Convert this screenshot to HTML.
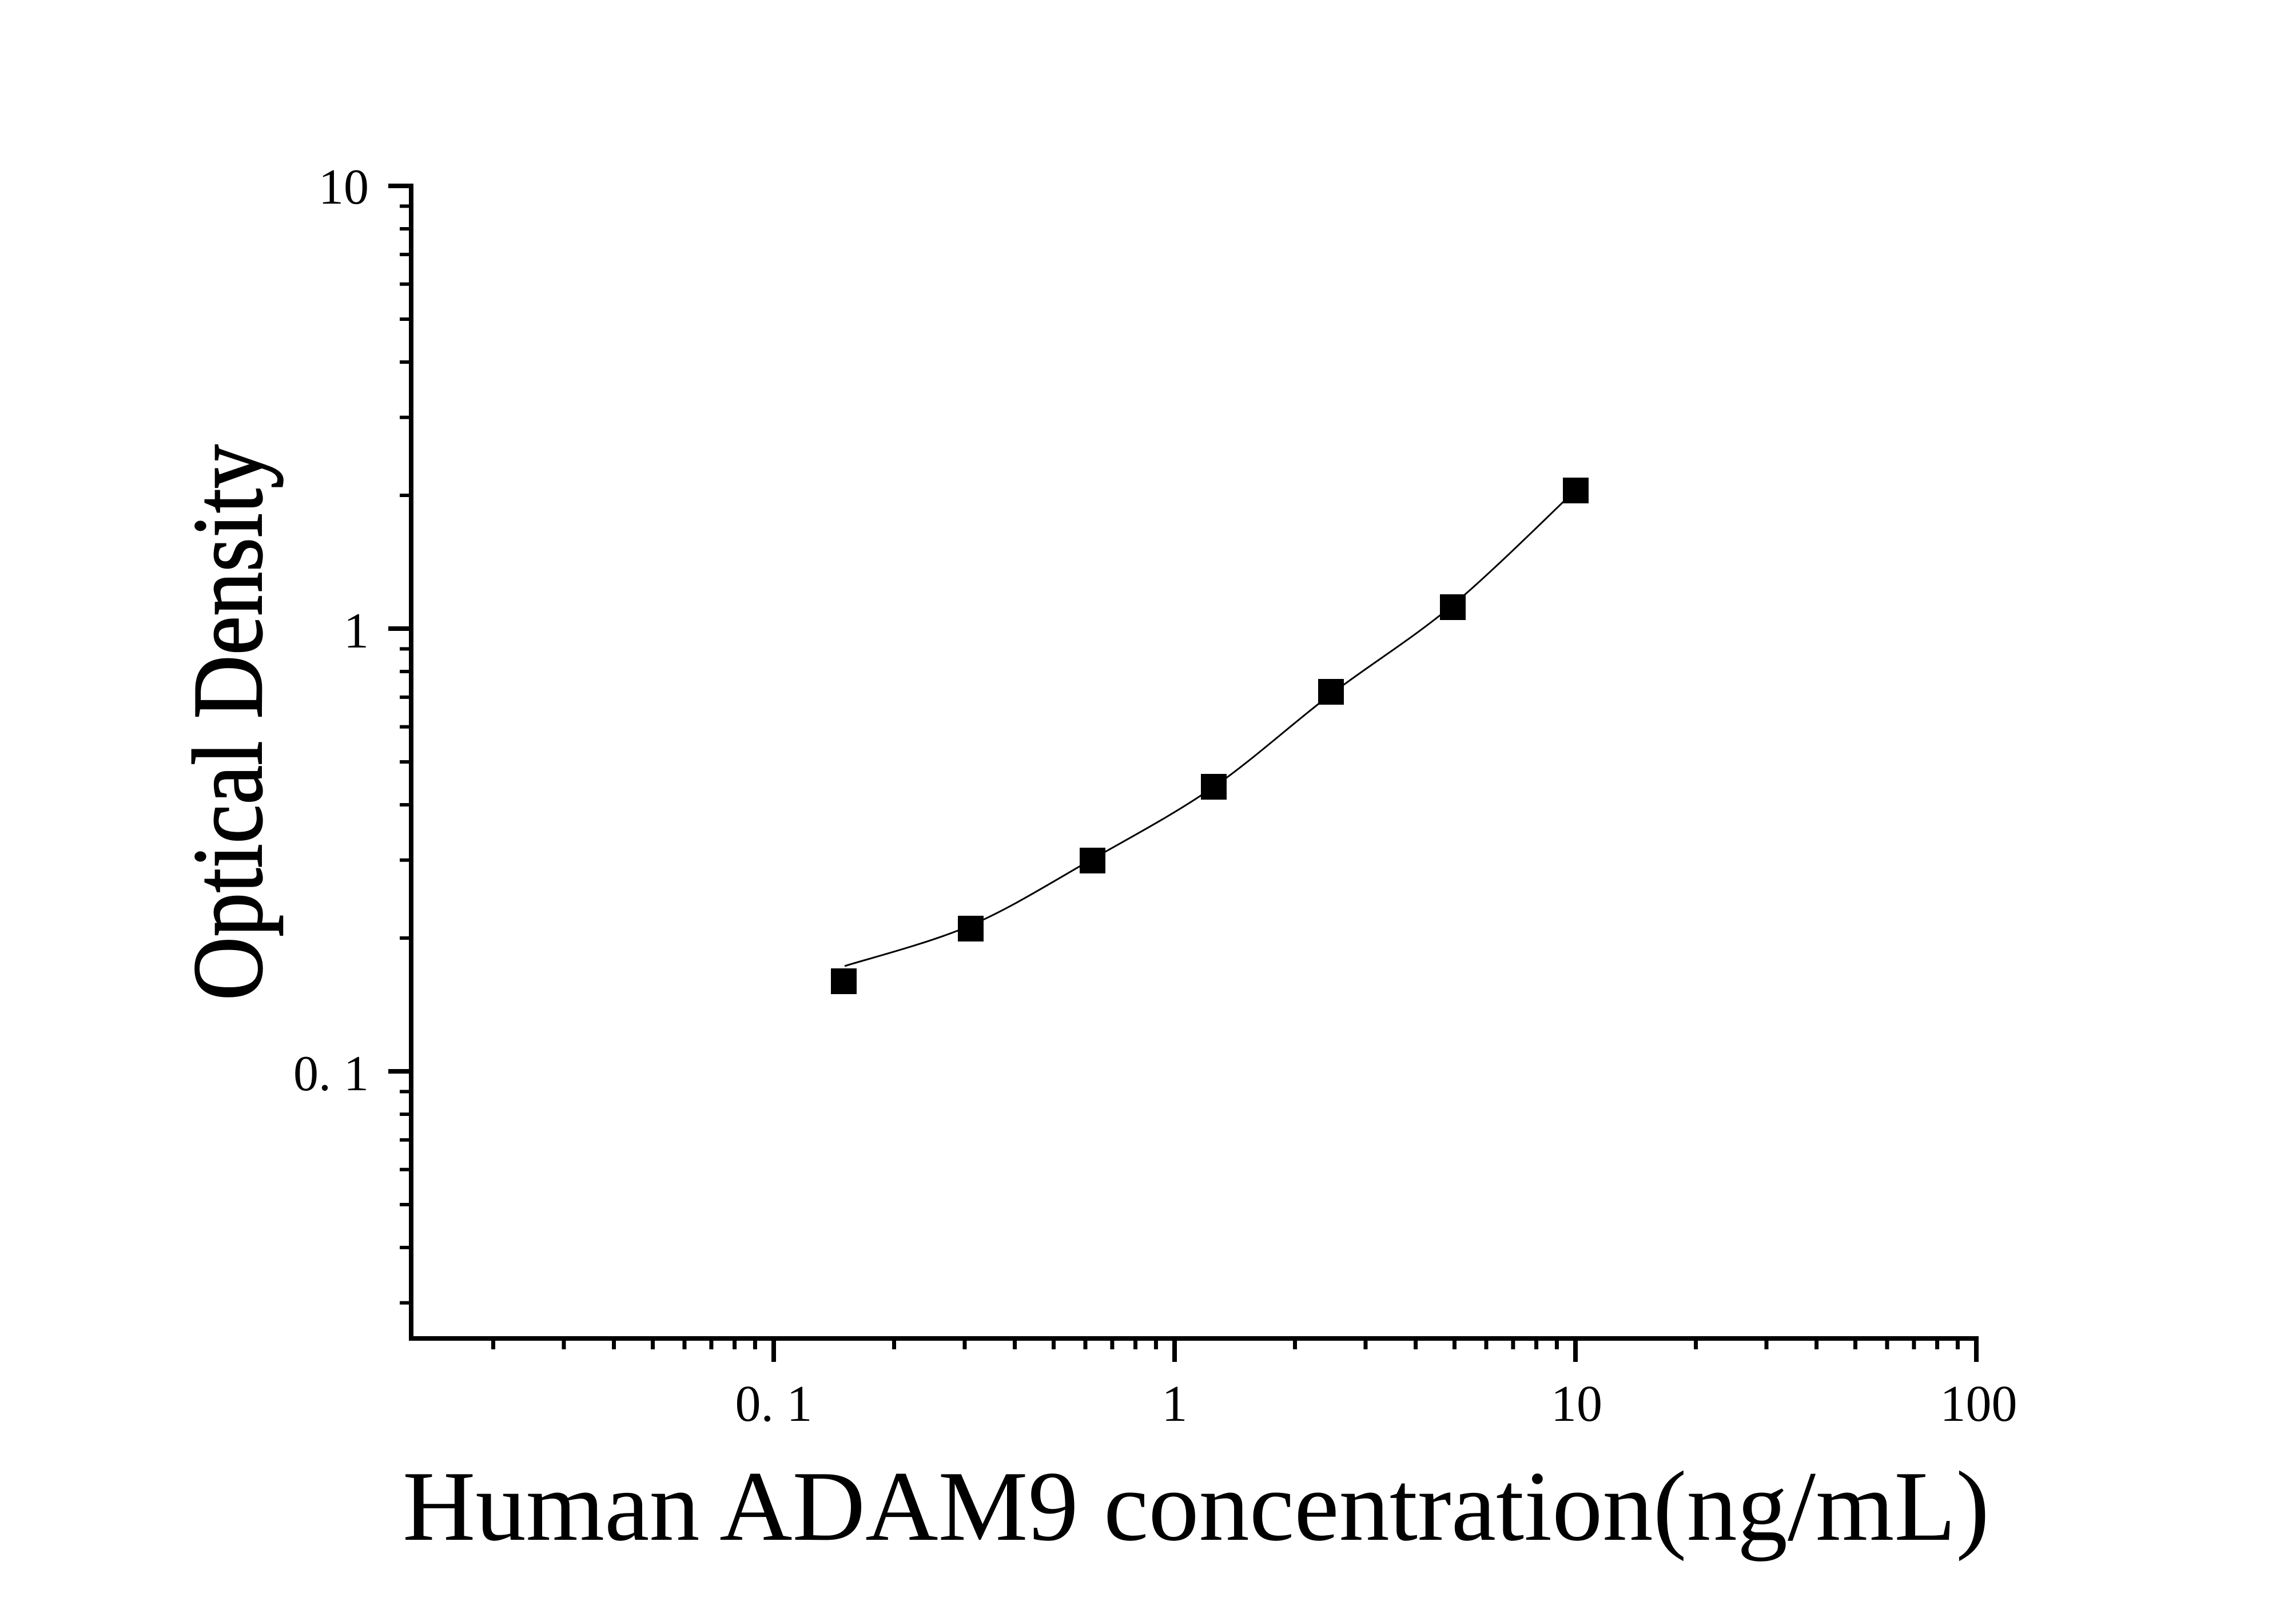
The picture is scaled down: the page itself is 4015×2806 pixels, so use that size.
<!DOCTYPE html>
<html><head><meta charset="utf-8"><style>html,body{margin:0;padding:0;background:#fff}svg{display:block}</style></head>
<body>
<svg width="4015" height="2806" viewBox="0 0 4015 2806" xmlns="http://www.w3.org/2000/svg" font-family="Liberation Serif, serif">
<rect width="4015" height="2806" fill="#fff"/>
<rect x="715" y="321" width="8" height="2023" fill="#000"/>
<rect x="715" y="2336" width="2745" height="8" fill="#000"/>
<g fill="#000" id="yt"></g>
<g fill="#000" id="xt"></g>
<path id="curve" d="M1477,1689 L1697,1618 L1910,1502 L2122,1376 L2327,1214 L2540,1058 L2755,857" fill="none" stroke="#000" stroke-width="3"/>
<g font-size="88" text-anchor="end" fill="#000">
<text x="645" y="356">10</text>
<text x="645" y="1132">1</text>
<text x="645" y="1906" xml:space="preserve">0. 1</text>
</g>
<g font-size="90" text-anchor="middle" fill="#000">
<text x="1353" y="2484" xml:space="preserve">0. 1</text>
<text x="2054" y="2484">1</text>
<text x="2757" y="2484">10</text>
<text x="3460" y="2484">100</text>
</g>
<text x="704" y="2692" font-size="175" textLength="2775" lengthAdjust="spacingAndGlyphs" fill="#000">Human ADAM9 concentration(ng/mL)</text>
<text transform="translate(457,1749) rotate(-90)" font-size="175" textLength="972" lengthAdjust="spacingAndGlyphs" fill="#000" stroke="#000" stroke-width="2">Optical Density</text>
<g fill="#000">
<rect x="1453" y="1693" width="45" height="45"/>
<rect x="1675" y="1601" width="45" height="45"/>
<rect x="1888" y="1482" width="45" height="45"/>
<rect x="2100" y="1353" width="45" height="45"/>
<rect x="2305" y="1187" width="45" height="45"/>
<rect x="2518" y="1039" width="45" height="45"/>
<rect x="2733" y="835" width="45" height="45"/>
</g>
</svg>
<script>
(function(){
var ns="http://www.w3.org/2000/svg";
function r(g,x,y,w,h){var e=document.createElementNS(ns,"rect");e.setAttribute("x",x);e.setAttribute("y",y);e.setAttribute("width",w);e.setAttribute("height",h);g.appendChild(e);}
var yt=document.getElementById("yt"),xt=document.getElementById("xt");
var dy=774, y1=1099;
for(var d=-2;d<=1;d++){for(var m=1;m<=9;m++){var v=d+Math.log10(m);var y=y1-v*dy;if(y<320||y>2336)continue;
 if(m==1)r(yt,679,y-4,40,8);else r(yt,699,y-3,20,6);}}
var dx=701, x10=2755;
for(var d=-3;d<=2;d++){for(var m=1;m<=9;m++){var v=d+Math.log10(m)-1;var x=x10+v*dx;if(x<722||x>3461)continue;
 if(m==1)r(xt,x-4,2340,8,41);else r(xt,x-4,2340,7,19);}}
var p=[[1477,1689],[1697,1618],[1910,1502],[2122,1376],[2327,1214],[2540,1058],[2755,857]];
var s="M"+p[0][0]+","+p[0][1];
for(var i=0;i<p.length-1;i++){var p0=p[i-1]||p[i],p1=p[i],p2=p[i+1],p3=p[i+2]||p[i+1];
 var c1=[p1[0]+(p2[0]-p0[0])/6,p1[1]+(p2[1]-p0[1])/6],c2=[p2[0]-(p3[0]-p1[0])/6,p2[1]-(p3[1]-p1[1])/6];
 s+=" C"+c1[0]+","+c1[1]+" "+c2[0]+","+c2[1]+" "+p2[0]+","+p2[1];}
document.getElementById("curve").setAttribute("d",s);
})();
</script>
</body></html>
